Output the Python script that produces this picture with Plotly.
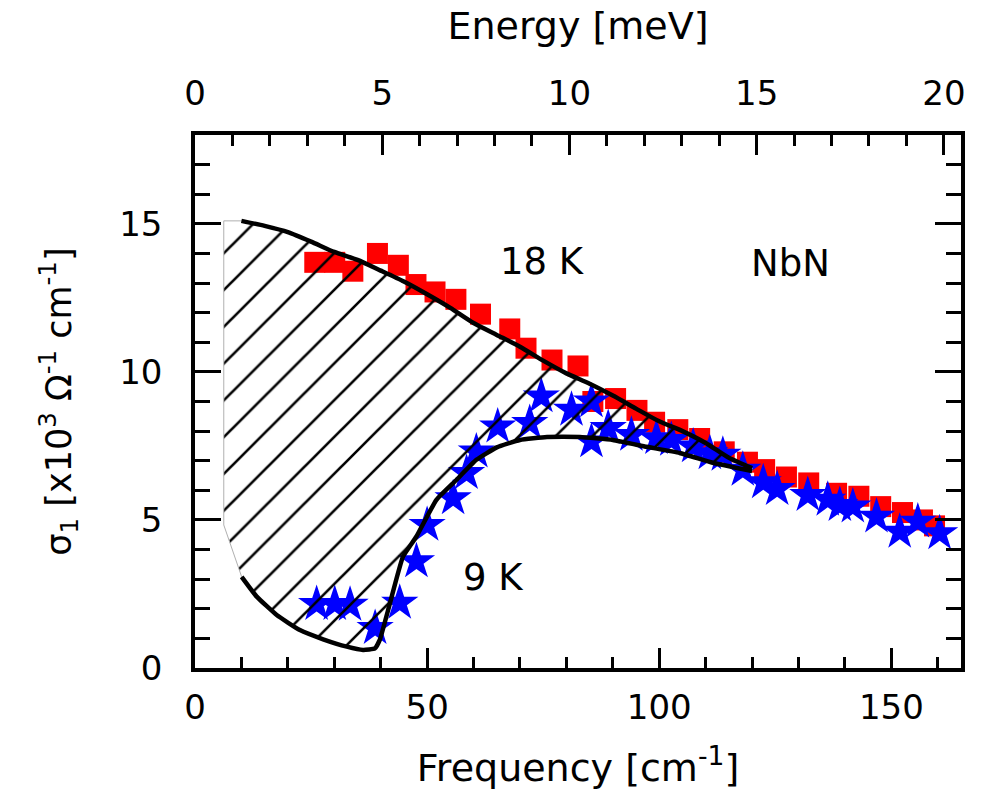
import plotly.graph_objects as go

# ---- data ----
sq_freq = [25.8, 30.1, 34.0, 39.3, 43.8, 47.6, 51.7, 56.2, 61.5, 67.8, 71.3, 76.9, 82.5,
           85.7, 90.6, 95.2, 99.0, 104.0, 108.7, 114.0, 119.0, 122.7, 127.4, 132.2,
           138.2, 143.0, 147.7, 152.4, 156.7, 159.3]
sq_sigma = [13.7, 13.7, 13.4, 14.0, 13.6, 12.95, 12.7, 12.45, 11.95, 11.45, 10.8, 10.4, 10.2,
            9.0, 9.1, 8.7, 8.3, 8.05, 7.75, 7.3, 6.95, 6.7, 6.45, 6.25,
            5.9, 5.8, 5.45, 5.25, 5.0, 4.8]

st_freq = [26.2, 30.1, 33.4, 38.8, 44.1, 47.7, 50.0, 55.6, 58.5, 60.6, 65.2, 72.1, 74.6,
           81.1, 85.4, 85.4, 89.0, 94.0, 99.4, 102.6, 107.3, 110.9, 113.7, 118.0, 122.4,
           125.4, 132.0, 136.3, 138.9, 141.7, 146.8, 151.8, 155.7, 160.4]
st_sigma = [2.16, 2.16, 2.13, 1.35, 2.2, 3.6, 4.83, 5.73, 6.58, 7.31, 8.15, 8.27, 9.17,
            8.72, 9.0, 7.65, 8.1, 7.87, 7.76, 7.7, 7.48, 7.25, 7.2, 6.69, 6.27,
            6.04, 5.84, 5.68, 5.5, 5.45, 5.11, 4.6, 4.94, 4.55]

k18_freq = [10, 15, 20, 25, 30, 35, 40, 45, 50, 55, 60, 65, 70, 75, 80, 85, 90, 95,
            100, 105, 110, 115, 120]
k18_sigma = [15.1, 14.93, 14.72, 14.4, 14.05, 13.78, 13.42, 13.05, 12.62, 12.16, 11.65,
             11.25, 10.85, 10.38, 9.95, 9.6, 9.2, 8.76, 8.33, 8.0, 7.6, 7.1, 6.75]

k9_freq = [10.05, 13.3, 17.6, 22.6, 27.6, 32.7, 36.2, 38.75, 39.8, 42.0, 44.8, 47.7, 52.0,
           56.3, 60.6, 65.0, 70.0, 75.8, 82.9, 90.0, 97.3, 104.4, 111.5, 116.0, 120.0]
k9_sigma = [3.08, 2.41, 1.79, 1.28, 0.97, 0.72, 0.61, 0.66, 0.95, 2.19, 3.76, 4.44, 5.68,
            6.35, 7.03, 7.45, 7.7, 7.8, 7.8, 7.7, 7.47, 7.26, 6.93, 6.78, 6.65]

hatch_left_freq = 6.2
hatch_left_low = 4.83

x_ticks = [0, 50, 100, 150]
y_ticks = [0, 5, 10, 15]
e_ticks = [0, 5, 10, 15, 20]
x_range = [0, 165]
y_range = [0, 18]
cm_per_meV = 8.0655

labels = [("18 K", 74.9, 13.72), ("NbN", 128.3, 13.65), ("9 K", 64.2, 3.07)]

FONT = "DejaVu Sans, Arial, sans-serif"

fill_x = [hatch_left_freq] + k18_freq + k9_freq[::-1] + [hatch_left_freq, hatch_left_freq]
fill_y = [k18_sigma[0]] + k18_sigma + k9_sigma[::-1] + [hatch_left_low, k18_sigma[0]]

fig = go.Figure()

fig.add_trace(go.Scatter(x=sq_freq, y=sq_sigma, mode="markers",
                         marker=dict(symbol="square", size=21, color="#ff0000",
                                     line=dict(width=0)),
                         showlegend=False, hoverinfo="skip"))
fig.add_trace(go.Scatter(x=st_freq, y=st_sigma, mode="markers",
                         marker=dict(symbol="star", size=28, color="#0000ff",
                                     line=dict(width=0)),
                         showlegend=False, hoverinfo="skip"))
fig.add_trace(go.Scatter(x=fill_x, y=fill_y, mode="lines", fill="toself",
                         fillcolor="rgba(0,0,0,0)",
                         fillpattern=dict(shape="/", size=26, solidity=0.1,
                                          fgcolor="black", bgcolor="rgba(0,0,0,0)",
                                          fillmode="replace"),
                         line=dict(color="#b0b0b0", width=1),
                         showlegend=False, hoverinfo="skip"))
fig.add_trace(go.Scatter(x=k18_freq, y=k18_sigma, mode="lines",
                         line=dict(color="black", width=4.5, shape="spline", smoothing=0.6),
                         showlegend=False, hoverinfo="skip"))
fig.add_trace(go.Scatter(x=k9_freq, y=k9_sigma, mode="lines",
                         line=dict(color="black", width=4.5, shape="spline", smoothing=0.4),
                         showlegend=False, hoverinfo="skip"))
# helper trace so the top (energy) axis is rendered
fig.add_trace(go.Scatter(x=[e_ticks[0], e_ticks[-1]], y=[y_range[0], y_range[0]],
                         xaxis="x2", mode="markers", marker=dict(opacity=0),
                         showlegend=False, hoverinfo="skip"))

for txt, xx, yy in labels:
    fig.add_annotation(x=xx, y=yy, text=txt, showarrow=False,
                       font=dict(family=FONT, size=37, color="black"),
                       xanchor="center", yanchor="middle")

axis_common = dict(showgrid=False, zeroline=False, showline=True, linecolor="black",
                   linewidth=3.5, ticks="inside", tickcolor="black", tickwidth=3,
                   tickfont=dict(family=FONT, size=34, color="black"))

fig.update_layout(
    width=986, height=797,
    margin=dict(l=195, r=25, t=135, b=129),
    paper_bgcolor="white", plot_bgcolor="white",
    xaxis=dict(range=x_range, tickvals=x_ticks, ticklen=20, mirror=True,
               minor=dict(dtick=10, ticklen=11, tickwidth=3, ticks="inside",
                          tickcolor="black"),
               ticklabelstandoff=6,
               title=dict(text="Frequency [cm<sup>-1</sup>]",
                          font=dict(family=FONT, size=38, color="black"), standoff=30),
               **axis_common),
    xaxis2=dict(range=[x_range[0] / cm_per_meV, x_range[1] / cm_per_meV],
                overlaying="x", side="top", anchor="y", tickvals=e_ticks, ticklen=20,
                minor=dict(dtick=1, ticklen=11, tickwidth=3, ticks="inside",
                           tickcolor="black"),
                ticklabelstandoff=13,
                title=dict(text="Energy [meV]",
                           font=dict(family=FONT, size=38, color="black"), standoff=22),
                **axis_common),
    yaxis=dict(range=y_range, tickvals=y_ticks, ticklen=26, mirror="ticks",
               minor=dict(dtick=1, ticklen=15, tickwidth=3, ticks="inside",
                          tickcolor="black"),
               ticklabelstandoff=22,
               title=dict(text="σ<sub>1</sub> [x10<sup>3</sup> Ω<sup>-1</sup> cm<sup>-1</sup>]",
                          font=dict(family=FONT, size=35, color="black"), standoff=38),
               **axis_common),
)

fig.write_html("out.html")
